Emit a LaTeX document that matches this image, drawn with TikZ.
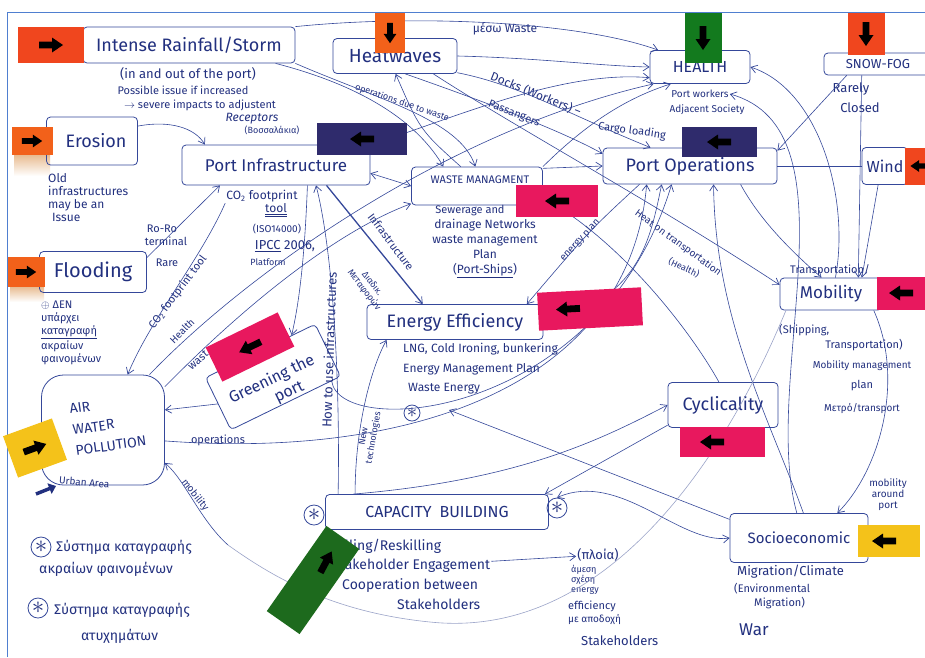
\documentclass[tikz,border=0pt]{standalone}
\usepackage{fontspec}
\setmainfont{Fira Sans}
\usetikzlibrary{arrows.meta,calc}
\definecolor{ink}{HTML}{22307F}
\definecolor{pen}{HTML}{35489A}
\definecolor{faint}{HTML}{9AA3C8}
\definecolor{frame}{HTML}{4F7FD0}
\definecolor{tagred}{HTML}{F0461E}
\definecolor{tagorange}{HTML}{F2611A}
\definecolor{taggreen}{HTML}{137A1E}
\definecolor{tagdkgreen}{HTML}{1D6A1D}
\definecolor{tagnavy}{HTML}{2F2B6C}
\definecolor{tagpink}{HTML}{E8185E}
\definecolor{tagyellow}{HTML}{F4C21A}
\definecolor{tagshadow}{HTML}{E7B98C}
\newcommand{\fs}[2]{\fontsize{#1}{#2}\selectfont}
\tikzset{
  box/.style={draw=pen, line width=0.8pt, rounded corners=4pt, text=ink, inner sep=2pt},
  lbl/.style={text=ink, inner sep=1pt},
  tag/.style={inner sep=0pt, draw=none},
  link/.style={draw=pen, line width=0.6pt},
  tip/.style={-{Straight Barb[length=6pt,width=8pt,line width=0.7pt]}},
  twotips/.style={{Straight Barb[length=6pt,width=8pt,line width=0.7pt]}-{Straight Barb[length=6pt,width=8pt,line width=0.7pt]}},
  starmark/.style={draw=pen, circle, line width=0.8pt, inner sep=0pt, minimum size=20pt, text=ink, font=\fs{24}{24}},
  tagarrow/.pic={\fill[black] (-12,-3.4) -- (1,-3.4) -- (1,-7.5) -- (12,0) -- (1,7.5) -- (1,3.4) -- (-12,3.4) -- cycle;}
}
\begin{document}
\begin{tikzpicture}[x=1pt,y=-1pt]
\useasboundingbox (0,0) rectangle (925,657);
\fill[white] (0,0) rectangle (925,657);
\draw[frame, line width=1pt] (7,657) -- (7,12) -- (925,12);

% soft paper shadows under two tags
\shade[top color=tagshadow, bottom color=white] (14,154) rectangle (50,176);
\shade[top color=tagshadow, bottom color=white] (10,286) rectangle (44,302);

% ---------- boxes
\node[box, minimum width=212pt, minimum height=36pt, font=\fs{18}{20}] (rain) at (189,45) {Intense Rainfall/Storm};
\node[box, minimum width=124pt, minimum height=35pt, font=\fs{19}{21}] (heat) at (395,56) {Heatwaves};
\node[box, minimum width=100pt, minimum height=33pt, font=\fs{16}{18}] (health) at (700,67) {HEALTH};
\node[box, minimum width=108pt, minimum height=22pt, font=\fs{13}{14}] (snow) at (878,64) {SNOW-FOG};
\node[box, minimum width=91pt, minimum height=48pt, font=\fs{18}{20}] (erosion) at (92,141) {\hspace*{8pt}Erosion};
\node[box, minimum width=188pt, minimum height=40pt, font=\fs{17}{19}] (infra) at (276,165) {Port Infrastructure};
\node[box, minimum width=131pt, minimum height=38pt] (waste) at (477,186) {};
\node[lbl, font=\fs{11}{12}] (wasteTxt) at (480,180) {WASTE MANAGMENT};
\node[box, minimum width=174pt, minimum height=36pt, font=\fs{18}{20}] (ops) at (690,166) {\raisebox{-3pt}{Port Operations}};
\node[box, minimum width=46pt, minimum height=37pt, font=\fs{16}{18}] (wind) at (885,166) {Wind};
\node[box, minimum width=107pt, minimum height=41pt, font=\fs{20}{22}] (flood) at (93,272) {Flooding};
\node[box, minimum width=176pt, minimum height=35pt, font=\fs{18}{20}] (energy) at (455,322) {Energy Efficiency};
\node[box, minimum width=102pt, minimum height=32pt, font=\fs{17}{19}] (mobility) at (831,294) {Mobility};
\node[box, rotate=26, minimum width=122pt, minimum height=58pt] (green) at (273,377) {};
\node[lbl, rotate=26, font=\fs{16}{19}, align=center] (greenTxt) at (276,388) {Greening the\\\hspace*{20pt}port};
\node[box, rounded corners=22pt, minimum width=123pt, minimum height=110pt] (air) at (103,430) {};
\node[lbl, rotate=8, font=\fs{14}{21}, align=left] (airTxt) at (108,425) {AIR\\WATER\\POLLUTION};
\node[box, minimum width=110pt, minimum height=45pt, font=\fs{18}{20}] (cycl) at (723,405) {Cyclicality};
\node[box, minimum width=223pt, minimum height=35pt, font=\fs{16}{18}] (cap) at (437,512) {CAPACITY\enspace BUILDING};
\node[box, minimum width=138pt, minimum height=49pt, font=\fs{15}{17}] (socio) at (799,538) {Socioeconomic};
\node[starmark] (capL) at (314,515) {$\ast$};
\node[starmark] (capR) at (557,508) {$\ast$};

% ---------- annotations
\node[lbl, font=\fs{13}{15}] (inout) at (188,74) {(in and out of the port)};
\node[lbl, font=\fs{11}{13}] (possible) at (183,90) {Possible issue if increased};
\node[lbl, font=\fs{11}{13}] (severe) at (200,105) {$\rightarrow$ severe impacts to adjustent};
\node[lbl, font=\fs{12}{14}\itshape] (recept) at (252,119) {Receptors};
\node[lbl, font=\fs{9}{10}] (vossal) at (272,130) {(Βοσσαλάκια)};
\node[lbl, font=\fs{12}{14}] (meso) at (505,29) {μέσω Waste};
\node[lbl, font=\fs{9}{10}, rotate=-19] (opsdue) at (402,103) {operations due to waste};
\node[lbl, font=\fs{12}{14}, rotate=-22] (docks) at (536,94) {Docks (Workers) –};
\node[lbl, font=\fs{11}{13}, rotate=-22] (pass) at (514,114) {Passangers};
\node[lbl, font=\fs{11}{13}, rotate=-8] (cargo) at (632,131) {Cargo loading};
\node[lbl, font=\fs{10}{12}] (pw) at (700,94) {Port workers};
\node[lbl, font=\fs{10}{12}] (adj) at (707,110) {Adjacent Society};
\node[lbl, font=\fs{13}{15}] (rarely) at (851,89) {Rarely};
\node[lbl, font=\fs{13}{15}] (closed) at (860,108) {Closed};
\node[lbl, font=\fs{12}{13}, align=left, anchor=north west] (old) at (47,172) {Old\\infrastructures\\may be an\\\hspace*{4pt}Issue};
\node[lbl, font=\fs{11}{12}] (roro) at (162,229) {Ro-Ro};
\node[lbl, font=\fs{11}{12}] (term) at (166,241) {terminal};
\node[lbl, font=\fs{11}{12}] (rare1) at (167,263) {Rare};
\node[lbl, font=\fs{12}{14}] (co2) at (262,196) {CO\textsubscript{2} footprint};
\node[lbl, font=\fs{12}{14}] (tool) at (276,210) {\underline{\underline{tool}}};
\node[lbl, font=\fs{10}{12}] (iso) at (277,229) {(ISO14000)};
\node[lbl, font=\fs{13}{15}] (ipcc) at (285,246) {\underline{IPCC} 2006,};
\node[lbl, font=\fs{9}{10}] (platf) at (268,262) {Platform};
\node[lbl, font=\fs{11}{12}, rotate=53] (co2tool) at (178,292) {CO\textsubscript{2} footprint tool};
\node[lbl, font=\fs{10}{12}, rotate=45] (hlth) at (182,331) {Health};
\node[lbl, font=\fs{11}{12}, rotate=40] (wastl) at (198,360) {wast};
\node[lbl, font=\fs{11}{12}, rotate=-53] (infl) at (391,242) {Infrastructure};
\node[lbl, font=\fs{9}{10}, rotate=-53, align=center] (diad) at (368,287) {Διαδικ.\\Μεταφορών};
\node[lbl, font=\fs{13}{15}, rotate=88] (howto) at (329,350) {How to use infrastructures};
\node[lbl, font=\fs{9}{10}, rotate=80, align=center] (newt) at (369,437) {New\\technologies};
\node[lbl, font=\fs{11}{13}] (sewer1) at (470,211) {Sewerage and};
\node[lbl, font=\fs{12}{15}, align=center, anchor=north] (sewer) at (485,218) {drainage Networks\\waste management\\Plan\\(\underline{Port-Ships})};
\node[lbl, font=\fs{10}{12}, rotate=47] (eplan) at (580,240) {energy plan};
\node[lbl, font=\fs{10}{12}, rotate=-36] (heaton) at (678,243) {Heat on transportation};
\node[lbl, font=\fs{9}{11}, rotate=-25] (hlth2) at (684,268) {(Health)};
\node[lbl, font=\fs{12}{14}, anchor=west] (lng) at (402,349) {LNG, Cold Ironing, bunkering};
\node[lbl, font=\fs{12}{14}, anchor=west] (emp) at (402,369) {Energy Management Plan};
\node[lbl, font=\fs{12}{14}, anchor=west] (weng) at (407,389) {Waste Energy};
\node[starmark, minimum size=16pt, font=\fs{20}{20}] (starE) at (412,413) {$\ast$};
\coordinate (starTip) at (449,410);
\node[lbl, font=\fs{11}{13}] (transp) at (830,270) {Transportation/};
\node[lbl, font=\fs{11}{13}, anchor=west] (shipp) at (778,330) {(Shipping,};
\node[lbl, font=\fs{11}{13}] (transp2) at (864,345) {Transportation)};
\node[lbl, font=\fs{10}{12}] (mobman) at (862,366) {Mobility management};
\node[lbl, font=\fs{11}{13}] (plan) at (862,386) {plan};
\node[lbl, font=\fs{10}{12}] (metro) at (862,409) {Μετρό/transport};
\node[lbl, font=\fs{10}{11}, align=center] (around) at (888,495) {mobility\\around\\port};
\node[lbl, font=\fs{13}{15}, anchor=west] (migr) at (736,572) {Migration/Climate};
\node[lbl, font=\fs{11}{13}, anchor=west] (envm) at (733,589) {(Environmental};
\node[lbl, font=\fs{11}{13}, anchor=west] (migr2) at (753,603) {Migration)};
\node[lbl, font=\fs{17}{19}, anchor=west] (war) at (738,630) {War};
\node[lbl, font=\fs{14}{15}, anchor=west] (skill) at (325,546) {Skilling/Reskilling};
\node[lbl, font=\fs{14}{15}, anchor=west] (stake) at (331,566) {Stakeholder Engagement};
\node[lbl, font=\fs{14}{15}, anchor=west] (coop) at (341,586) {Cooperation between};
\node[lbl, font=\fs{14}{15}, anchor=west] (stake2) at (396,604) {Stakeholders};
\node[lbl, font=\fs{13}{15}] (ploia) at (598,555) {(πλοία)};
\node[lbl, font=\fs{9}{10}, align=left, anchor=north west] (amesi) at (570,564) {άμεση\\σχέση\\energy};
\node[lbl, font=\fs{11}{12}, anchor=west] (effic) at (567,606) {efficiency};
\node[lbl, font=\fs{10}{12}, anchor=west] (apod) at (567,620) {με αποδοχή};
\node[lbl, font=\fs{13}{15}, anchor=west] (stake3) at (580,641) {Stakeholders};
\node[lbl, font=\fs{11}{13}] (opsl) at (218,440) {operations};
\node[lbl, font=\fs{10}{12}, rotate=-52] (mobl) at (195,495) {mobility};
\node[lbl, font=\fs{10}{12}, rotate=-5, anchor=west] (urban) at (58,480) {Urban Area};
\node[lbl, font=\fs{11}{13}, align=left, anchor=north west] (nodata) at (40,300) {$\oplus$ ΔΕΝ\\υπάρχει\\\underline{καταγραφή}\\ακραίων\\φαινομένων};
\node[starmark] (leg1) at (41,547) {$\ast$};
\node[lbl, font=\fs{14}{16}, anchor=west] (leg1a) at (55,547) {Σύστημα καταγραφής};
\node[lbl, font=\fs{14}{16}, anchor=west] (leg1b) at (38,569) {ακραίων φαινομένων};
\node[starmark] (leg2) at (38,608) {$\ast$};
\node[lbl, font=\fs{14}{16}, anchor=west] (leg2a) at (53,610) {Σύστημα καταγραφής};
\node[lbl, font=\fs{14}{16}, anchor=west] (leg2b) at (80,636) {ατυχημάτων};
\coordinate (urbTail) at (36,494);
\coordinate (urbHead) at (56,486);
\coordinate (m1) at (228,545);

% ---------- connectors
\draw[link,tip] (rain.north east) .. controls (420,14) and (580,22) .. (health.158);
\draw[link,tip] (heat.east) .. controls (540,58) and (600,66) .. (health.west);
\draw[link,tip] (infra.north east) .. controls (450,120) and (560,70) .. (health.192);
\draw[link,tip] (heat.-15) .. controls (520,85) and (570,115) .. (ops.155);
\draw[link,tip] (heat.-60) .. controls (480,100) and (560,130) .. (ops.172);
\draw[link,tip] (rain.-12) .. controls (340,80) and (410,110) .. (waste.150);
\draw[link,tip] (rain.south east) .. controls (380,100) and (460,120) .. (waste.95);
\draw[link,tip] (waste.130) .. controls (420,130) .. (heat.-88);
\draw[link,tip] (waste.15) -- (ops.west);
\draw[link,tip] (waste.north east) .. controls (580,130) and (620,100) .. (health.-150);
\draw[link,twotips] (infra.-5) -- (waste.west);
\draw[link,line width=1.3pt,tip] (infra.-22) -- (energy.151);
\draw[link,tip] (erosion.18) .. controls (170,120) and (195,128) .. (infra.164);
\draw[link,tip] (flood.15) -- (infra.-160);
\draw[link,tip] (co2.south west) .. controls (200,260) and (150,320) .. (air.66);
\draw[link,tip] (air.50) .. controls (250,270) and (450,130) .. (health.200);
\draw[link,tip] (air.35) .. controls (250,300) and (340,230) .. (waste.-165);
\draw[link,tip] (green.west) -- (air.18);
\draw[link,tip] (infra.-33) .. controls (305,250) and (300,300) .. (green.40);
\draw[link,tip] ([xshift=13pt]cap.north west) .. controls (340,400) and (335,260) .. (infra.-27);
\draw[link,tip] ([xshift=30pt]cap.north west) .. controls (355,430) and (370,370) .. ([xshift=20pt]energy.south west);
\draw[link,tip] (air.-10) .. controls (420,460) and (630,380) .. (ops.-157);
\draw[link,tip] (green.-30) .. controls (340,440) and (600,420) .. (ops.-135);
\draw[link,tip] (energy.east) .. controls (640,300) and (650,240) .. (ops.-147);
\draw[link,tip] (ops.-160) .. controls (590,230) .. (energy.14);
\draw[link,tip] (heat.-25) .. controls (520,130) and (650,200) .. (mobility.170);
\draw[link,tip] (ops.-20) .. controls (760,220) and (790,250) .. (mobility.120);
\draw[link,tip] (snow.-160) -- (ops.10);
\draw[link,tip] (snow.-145) -- (mobility.31);
\draw[link] (wind.west) -- (ops.east);
\draw[link,tip] (wind.-110) -- (mobility.28);
\draw[link,tip] (mobility.-21) .. controls (905,380) and (880,470) .. (socio.33);
\draw[link,tip] (socio.80) .. controls (770,420) and (715,320) .. (ops.-38);
\draw[link,tip] (mobility.75) .. controls (850,200) and (820,90) .. (health.east);
\draw[link,tip] (socio.95) .. controls (760,380) and (860,130) .. (pw.east);
\draw[link,twotips] (capR.north) .. controls (620,470) and (680,545) .. (socio.west);
\draw[link,tip] (socio.165) -- (starTip);
\draw[link,tip] (cycl.-160) -- ([xshift=-4pt]cap.north east);
\draw[link,tip] ([xshift=28pt]cap.north west) .. controls (520,480) and (600,440) .. (cycl.west);
\draw[link] (waste.-10) .. controls (620,240) and (690,330) .. (cycl.100);
\draw[link,faint] (mobility.-160) .. controls (720,470) and (600,640) .. (430,622) .. controls (330,612) and (270,575) .. (m1);
\draw[link,tip] (m1) .. controls (200,520) and (185,480) .. (air.-28);
\draw[link,tip] (stake) -- (ploia);
\draw[ink, line width=3.5pt, -{Triangle[length=7pt,width=11pt]}] (urbTail) -- (urbHead);

% ---------- sticky notes
\node[tag, fill=tagred, minimum width=66pt, minimum height=36pt] (nRain) at (51,45) {};
\pic at (nRain.center) {tagarrow};
\node[tag, fill=tagorange, minimum width=30pt, minimum height=40pt] (nHeat) at (390,33) {};
\pic[rotate=-90, scale=0.85] at (nHeat.center) {tagarrow};
\node[tag, fill=taggreen, minimum width=37pt, minimum height=50pt] (nHealth) at (703,38) {};
\pic[rotate=-90] at (nHealth.center) {tagarrow};
\node[tag, fill=tagred, minimum width=37pt, minimum height=42pt] (nSnow) at (866,34) {};
\pic[rotate=-90] at (nSnow.center) {tagarrow};
\node[tag, fill=tagorange, minimum width=41pt, minimum height=28pt] (nErosion) at (32,141) {};
\pic[scale=0.85] at (nErosion.center) {tagarrow};
\node[tag, fill=tagnavy, minimum width=90pt, minimum height=32pt] (nInfra) at (362,139) {};
\pic[rotate=180] at (nInfra.center) {tagarrow};
\node[tag, fill=tagnavy, minimum width=75pt, minimum height=30pt] (nOps) at (719,142) {};
\pic[rotate=180] at (nOps.center) {tagarrow};
\node[tag, fill=tagpink, minimum width=82pt, minimum height=32pt] (nWaste) at (557,201) {};
\pic[rotate=180] at (nWaste.center) {tagarrow};
\node[tag, fill=tagred, minimum width=22pt, minimum height=37pt] (nWind) at (916,166) {};
\pic[rotate=180, scale=0.8] at ([xshift=4pt]nWind.center) {tagarrow};
\node[tag, fill=tagorange, minimum width=37pt, minimum height=30pt] (nFlood) at (26,272) {};
\pic[scale=0.85] at (nFlood.center) {tagarrow};
\node[tag, fill=tagpink, minimum width=104pt, minimum height=38pt, rotate=3] (nEnergy) at (590,309) {};
\pic[rotate=183] at ([xshift=-22pt]nEnergy.center) {tagarrow};
\node[tag, fill=tagpink, minimum width=48pt, minimum height=33pt] (nMob) at (901,293) {};
\pic[rotate=180] at (nMob.center) {tagarrow};
\node[tag, fill=tagpink, minimum width=80pt, minimum height=38pt, rotate=26] (nGreen) at (250,347) {};
\pic[rotate=206] at (nGreen.center) {tagarrow};
\node[tag, fill=tagpink, minimum width=85pt, minimum height=30pt] (nCycl) at (722,442) {};
\pic[rotate=180] at ([xshift=-10pt]nCycl.center) {tagarrow};
\node[tag, fill=tagyellow, minimum width=52pt, minimum height=44pt, rotate=20] (nAir) at (35,448) {};
\pic[rotate=20] at (nAir.center) {tagarrow};
\node[tag, fill=tagyellow, minimum width=62pt, minimum height=32pt] (nSocio) at (889,541) {};
\pic[rotate=180] at ([xshift=-5pt]nSocio.center) {tagarrow};
\node[tag, fill=tagdkgreen, minimum width=104pt, minimum height=40pt, rotate=55] (nCap) at (313,580) {};
\pic[rotate=62] at (326,562) {tagarrow};
\end{tikzpicture}
\end{document}
